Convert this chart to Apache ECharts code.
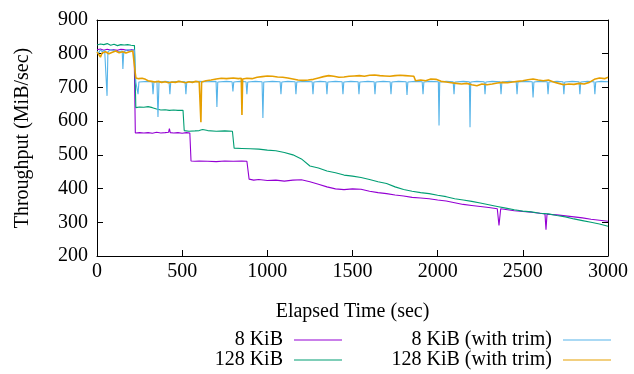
<!DOCTYPE html>
<html>
<head>
<meta charset="utf-8">
<title>Throughput over time</title>
<script src="https://cdn.jsdelivr.net/npm/echarts@6/dist/echarts.min.js"></script>
<style>
  html, body { margin: 0; padding: 0; background: #fff; }
  #chart { width: 634px; height: 374px; }
</style>
</head>
<body>
<div id="chart"></div>
<script>
// series names (legend order)
const seriesNames = ["8 KiB", "128 KiB", "8 KiB (with trim)", "128 KiB (with trim)"];
const seriesColors = ["#9400d3", "#009e73", "#56b4e9", "#e69f00"];

// [elapsed sec, MiB/sec]
const kib8 = [
    [0, 812], [20, 814], [40, 810], [60, 813], [80, 811], [100, 812], [120, 810], [140, 813],
    [160, 812], [180, 810], [200, 812], [218, 811], [225, 565], [250, 566], [275, 565], [300, 566],
    [325, 564], [350, 567], [375, 565], [400, 566], [420, 567], [425, 578], [430, 566], [450, 565],
    [475, 566], [500, 564], [525, 566], [545, 565], [552, 482], [575, 481], [600, 482], [650, 481],
    [700, 480], [750, 482], [800, 481], [850, 482], [880, 481], [893, 428], [920, 425], [950, 427],
    [1000, 424], [1050, 425], [1100, 422], [1150, 425], [1200, 426], [1250, 420], [1300, 413],
    [1350, 405], [1400, 399], [1450, 397], [1500, 399], [1550, 398], [1600, 392], [1650, 388],
    [1700, 385], [1750, 381], [1800, 378], [1850, 374], [1900, 372], [1950, 370], [2000, 366],
    [2050, 363], [2100, 358], [2150, 353], [2200, 350], [2250, 347], [2300, 344], [2350, 340],
    [2360, 291], [2370, 340], [2400, 338], [2450, 334], [2500, 332], [2550, 330], [2600, 327],
    [2630, 325], [2636, 278], [2642, 324], [2700, 322], [2750, 319], [2800, 316], [2850, 313],
    [2900, 309], [2950, 306], [3000, 303]
];

const kib128 = [
    [0, 826], [20, 829], [40, 827], [60, 830], [80, 825], [100, 828], [120, 824], [140, 827],
    [160, 826], [180, 827], [200, 825], [220, 824], [228, 640], [250, 642], [275, 641], [300, 643],
    [325, 640], [350, 636], [375, 633], [400, 634], [425, 632], [450, 633], [475, 632], [505, 632],
    [512, 572], [540, 570], [575, 571], [600, 572], [620, 575], [650, 572], [700, 570], [750, 571],
    [795, 570], [805, 520], [850, 519], [900, 518], [950, 517], [1000, 514], [1050, 512],
    [1100, 507], [1150, 500], [1200, 488], [1250, 467], [1300, 461], [1350, 452], [1400, 447],
    [1450, 440], [1500, 437], [1550, 433], [1600, 427], [1650, 420], [1700, 415], [1750, 405],
    [1800, 397], [1850, 392], [1900, 388], [1950, 385], [2000, 380], [2050, 376], [2100, 370],
    [2150, 366], [2200, 362], [2250, 357], [2300, 352], [2350, 347], [2400, 342], [2450, 337],
    [2500, 333], [2550, 331], [2600, 327], [2650, 325], [2700, 320], [2750, 316], [2800, 310],
    [2850, 305], [2900, 300], [2950, 295], [3000, 288]
];

const kib8Trim = [
    [0, 808], [10, 802], [20, 812], [30, 806], [45, 810], [55, 808], [59, 675], [64, 806],
    [80, 812], [100, 810], [118, 806], [148, 808], [152, 755], [157, 806], [180, 812], [200, 810],
    [220, 811], [228, 716], [236, 717], [241, 680], [246, 716], [300, 718], [324, 717], [329, 680],
    [334, 716], [352, 718], [358, 612], [364, 716], [400, 718], [423, 717], [428, 680], [433, 716],
    [480, 718], [517, 717], [522, 680], [527, 716], [600, 718], [650, 717], [699, 718], [704, 642],
    [709, 716], [760, 718], [793, 717], [798, 688], [803, 716], [840, 718], [875, 717], [880, 680],
    [885, 716], [930, 718], [969, 717], [974, 609], [979, 716], [1030, 718], [1075, 717],
    [1080, 680], [1085, 716], [1120, 718], [1163, 717], [1168, 680], [1173, 716], [1220, 718],
    [1263, 717], [1268, 680], [1273, 716], [1310, 718], [1345, 717], [1350, 680], [1355, 716],
    [1400, 718], [1439, 717], [1444, 680], [1449, 716], [1490, 718], [1533, 717], [1538, 680],
    [1543, 716], [1590, 718], [1627, 717], [1632, 680], [1637, 716], [1680, 718], [1721, 717],
    [1726, 680], [1731, 716], [1770, 718], [1815, 717], [1820, 678], [1825, 716], [1870, 718],
    [1909, 717], [1914, 680], [1919, 716], [1960, 718], [2004, 717], [2008, 587], [2012, 716],
    [2050, 718], [2091, 717], [2096, 680], [2101, 716], [2150, 718], [2186, 717], [2190, 582],
    [2194, 716], [2230, 718], [2273, 717], [2278, 680], [2283, 716], [2320, 718], [2367, 717],
    [2372, 680], [2377, 716], [2420, 718], [2461, 717], [2466, 680], [2471, 716], [2510, 718],
    [2555, 717], [2560, 670], [2565, 716], [2600, 718], [2643, 717], [2648, 680], [2653, 716],
    [2700, 718], [2736, 717], [2741, 680], [2746, 716], [2790, 718], [2830, 717], [2835, 680],
    [2840, 716], [2880, 718], [2918, 717], [2923, 680], [2928, 716], [2960, 718], [3000, 717]
];

const kib128Trim = [
    [0, 805], [10, 798], [20, 790], [30, 802], [50, 806], [70, 800], [90, 804], [110, 808],
    [130, 803], [150, 806], [170, 802], [190, 806], [210, 808], [220, 806], [228, 728], [245, 726],
    [265, 727], [285, 724], [300, 720], [320, 718], [340, 716], [360, 718], [380, 715], [400, 717],
    [420, 714], [440, 716], [460, 715], [480, 718], [500, 716], [520, 714], [540, 717], [560, 715],
    [580, 718], [600, 716], [606, 716], [610, 597], [614, 716], [640, 720], [670, 722], [700, 725],
    [730, 727], [760, 726], [800, 728], [830, 726], [847, 727], [851, 618], [855, 725], [880, 727],
    [910, 726], [940, 730], [970, 732], [1000, 734], [1030, 733], [1060, 731], [1090, 730],
    [1120, 728], [1150, 725], [1180, 722], [1210, 721], [1240, 722], [1270, 724], [1300, 728],
    [1330, 732], [1360, 735], [1390, 733], [1420, 730], [1450, 731], [1480, 733], [1510, 734],
    [1540, 735], [1570, 733], [1600, 736], [1630, 737], [1660, 735], [1690, 734], [1720, 733],
    [1750, 735], [1780, 736], [1810, 735], [1840, 734], [1860, 733], [1870, 720], [1900, 722],
    [1930, 720], [1960, 725], [1990, 724], [2020, 718], [2050, 716], [2080, 714], [2110, 712],
    [2140, 710], [2170, 712], [2200, 708], [2230, 705], [2260, 710], [2290, 708], [2320, 710],
    [2350, 713], [2380, 715], [2410, 714], [2440, 716], [2470, 718], [2500, 720], [2530, 723],
    [2560, 725], [2590, 722], [2620, 720], [2650, 722], [2680, 716], [2710, 712], [2740, 708],
    [2770, 710], [2800, 709], [2830, 712], [2860, 710], [2890, 715], [2920, 724], [2950, 728],
    [2980, 726], [3000, 730]
];

const seriesData = [kib8, kib128, kib8Trim, kib128Trim];

const font = '"Liberation Serif", "DejaVu Serif", serif';
const fontSize = 20;

const chart = echarts.init(document.getElementById("chart"));

// gnuplot-style boxed axes: ticks point inward and are mirrored
function xAxisOf(position, showLabels) {
    return {
        type: "value",
        position: position,
        min: 0,
        max: 3000,
        interval: 500,
        name: showLabels ? "Elapsed Time (sec)" : "",
        nameLocation: "middle",
        nameGap: 46,
        nameTextStyle: { fontFamily: font, fontSize: fontSize, color: "#000" },
        axisLine: { show: true, onZero: false, lineStyle: { color: "#000", width: 1 } },
        axisTick: { show: true, inside: true, length: 6, lineStyle: { color: "#000" } },
        axisLabel: {
            show: showLabels,
            fontFamily: font,
            fontSize: fontSize,
            color: "#000",
            margin: 6,
            formatter: (v) => String(v)
        },
        splitLine: { show: false }
    };
}

function yAxisOf(position, showLabels) {
    return {
        type: "value",
        position: position,
        min: 200,
        max: 900,
        interval: 100,
        name: showLabels ? "Throughput (MiB/sec)" : "",
        nameLocation: "middle",
        nameGap: 64,
        nameTextStyle: { fontFamily: font, fontSize: fontSize, color: "#000" },
        axisLine: { show: true, onZero: false, lineStyle: { color: "#000", width: 1 } },
        axisTick: { show: true, inside: true, length: 6, lineStyle: { color: "#000" } },
        axisLabel: { show: showLabels, fontFamily: font, fontSize: fontSize, color: "#000", margin: 9 },
        splitLine: { show: false }
    };
}

// one legend per entry so the line samples line up on their right edges
const legendSlots = [
    { right: 292, top: 330 },
    { right: 292, top: 350 },
    { right: 23, top: 330 },
    { right: 23, top: 350 }
];

const option = {
    animation: false,
    backgroundColor: "#fff",
    grid: { left: 97, right: 26, top: 20, bottom: 118 },
    legend: seriesNames.map((name, i) => ({
        data: [{ name: name, icon: "rect" }],
        right: legendSlots[i].right,
        top: legendSlots[i].top,
        align: "right",
        itemWidth: 48,
        itemHeight: 1.2,
        padding: 0,
        textStyle: { fontFamily: font, fontSize: fontSize, color: "#000", padding: [0, 6, 0, 0] }
    })),
    xAxis: [xAxisOf("bottom", true), xAxisOf("top", false)],
    yAxis: [yAxisOf("left", true), yAxisOf("right", false)],
    series: seriesNames.map((name, i) => ({
        name: name,
        type: "line",
        xAxisIndex: 0,
        yAxisIndex: 0,
        data: seriesData[i],
        showSymbol: false,
        symbol: "none",
        lineStyle: { color: seriesColors[i], width: i === 3 ? 1.6 : 1.1 },
        itemStyle: { color: seriesColors[i] }
    }))
};

chart.setOption(option);
</script>
</body>
</html>
